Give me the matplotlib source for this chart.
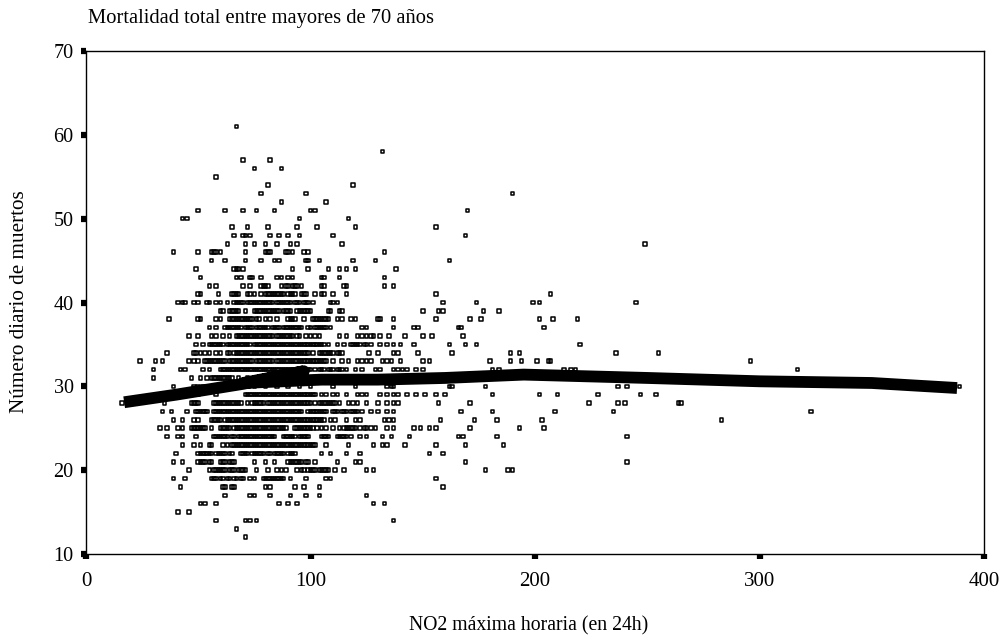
import numpy as np
import matplotlib
matplotlib.use('Agg')
import matplotlib.pyplot as plt

plt.rcParams['font.family'] = ['Liberation Serif', 'DejaVu Serif']

# NO2 readings for each daily death count
y61 = [67]
y58 = [132]
y57 = [70, 82]
y56 = [75, 87]
y55 = [58]
y54 = [81, 119]
y53 = [78, 98, 190]
y52 = [87, 107]
y51 = [50, 62, 70, 76, 84, 100, 102, 170]
y50 = [43, 45, 95, 117]
y49 = [65, 72, 81, 94, 103, 120, 156]
y48 = [66, 70, 71, 73, 82, 86, 90, 95, 110, 169]
y47 = [63, 71, 75, 80, 85, 91, 94, 114, 249]
y46 = [39, 50, 56, 57, 58, 60, 71, 80, 81, 82, 89, 90, 92, 97, 99, 133]
y45 = [56, 62, 71, 78, 84, 86, 98, 99, 104, 119, 129, 162]
y44 = [49, 66, 67, 68, 70, 92, 99, 108, 113, 116, 120, 138]
y43 = [51, 67, 69, 73, 74, 78, 85, 87, 90, 92, 105, 106, 113, 133]
y42 = [55, 58, 70, 73, 78, 79, 80, 81, 87, 89, 90, 92, 93, 94, 96, 105, 106, 115, 116, 133, 137]
y41 = [50, 51, 59, 65, 66, 67, 68, 72, 73, 75, 78, 80, 81, 82, 83, 84, 85, 86, 87, 88, 90, 91, 92, 93, 96, 97, 98,
       102, 105, 106, 110, 116, 156, 207]
y40 = [41, 43, 44, 48, 50, 54, 55, 58, 60, 63, 66, 67, 68, 69, 70, 72, 73, 74, 75, 76, 77, 78, 79, 80, 81, 82, 83,
       85, 86, 87, 88, 89, 90, 91, 93, 94, 95, 97, 98, 99, 101, 109, 110, 112, 159, 174, 199, 202, 245]
y39 = [60, 61, 64, 65, 66, 67, 68, 71, 75, 76, 77, 78, 79, 80, 81, 82, 83, 84, 85, 86, 88, 89, 90, 91, 94, 95, 96,
       97, 98, 99, 100, 108, 109, 113, 114, 150, 157, 159, 177, 184]
y38 = [37, 50, 51, 58, 60, 64, 65, 66, 67, 68, 69, 70, 71, 72, 73, 74, 76, 77, 80, 82, 85, 90, 91, 92, 93, 97, 101,
       102, 103, 104, 105, 106, 107, 108, 112, 114, 118, 120, 130, 131, 137, 156, 171, 176, 202, 208, 219]
y37 = [55, 58, 62, 63, 64, 65, 66, 67, 68, 69, 71, 72, 73, 74, 76, 77, 78, 79, 80, 81, 83, 84, 85, 86, 88, 89, 90,
       91, 92, 93, 94, 95, 96, 99, 100, 102, 103, 104, 105, 106, 107, 109, 123, 125, 137, 146, 148, 166, 167, 204]
y36 = [46, 50, 56, 58, 61, 64, 67, 68, 69, 70, 71, 72, 73, 74, 75, 76, 77, 78, 79, 80, 81, 82, 83, 85, 86, 87, 88,
       89, 90, 91, 92, 94, 95, 98, 100, 102, 104, 113, 116, 121, 123, 125, 127, 128, 131, 135, 142, 150, 154, 168]
y35 = [49, 52, 55, 56, 57, 58, 59, 60, 61, 63, 64, 65, 66, 67, 68, 69, 70, 71, 72, 73, 75, 76, 77, 78, 79, 80, 81,
       82, 83, 84, 85, 86, 87, 88, 89, 90, 91, 92, 93, 94, 95, 96, 97, 98, 99, 100, 101, 102, 103, 104, 105, 106,
       108, 112, 115, 118, 119, 120, 121, 122, 124, 125, 127, 131, 134, 137, 140, 146, 162, 169, 174, 220]
y34 = [36, 48, 49, 51, 53, 55, 58, 60, 63, 64, 66, 67, 68, 69, 70, 71, 72, 73, 74, 75, 76, 77, 78, 79, 80, 81, 82,
       83, 84, 85, 86, 87, 88, 89, 90, 91, 92, 93, 94, 95, 96, 97, 98, 99, 101, 104, 105, 106, 107, 108, 109, 110,
       112, 113, 114, 126, 130, 137, 139, 148, 163, 189, 193, 236, 255]
y33 = [24, 31, 34, 46, 48, 50, 53, 54, 55, 56, 57, 58, 59, 60, 61, 62, 64, 65, 66, 67, 68, 69, 70, 71, 72, 73, 74,
       76, 77, 78, 79, 80, 81, 82, 83, 85, 86, 87, 88, 89, 90, 91, 92, 93, 94, 95, 96, 97, 98, 99, 100, 101, 102,
       103, 104, 105, 106, 107, 110, 114, 117, 121, 123, 125, 127, 132, 134, 136, 140, 150, 153, 180, 189, 194,
       201, 206, 207, 296]
y32 = [30, 42, 44, 52, 55, 60, 61, 62, 63, 64, 65, 66, 67, 68, 69, 70, 71, 72, 73, 74, 75, 76, 77, 78, 79, 80, 81,
       82, 83, 84, 85, 86, 87, 88, 89, 90, 91, 92, 93, 94, 95, 96, 97, 98, 99, 100, 102, 104, 105, 106, 108, 109,
       110, 112, 113, 114, 116, 120, 123, 129, 131, 137, 139, 141, 143, 147, 150, 181, 184, 213, 216, 218, 317]
y31 = [30, 47, 51, 54, 56, 57, 58, 59, 60, 61, 62, 63, 64, 65, 68, 72, 76, 80, 84, 88, 92, 96, 100, 110, 120, 130,
       140, 150]
y30 = [39, 48, 50, 52, 54, 55, 70, 75, 80, 85, 90, 95, 100, 110, 120, 134, 136, 137, 162, 163, 178, 237, 241, 389]
y29 = [34, 50, 58, 71, 72, 73, 74, 75, 76, 77, 78, 79, 80, 81, 82, 83, 84, 85, 86, 87, 88, 89, 90, 91, 92, 93, 94,
       95, 96, 97, 98, 99, 100, 101, 102, 105, 107, 110, 112, 116, 121, 123, 125, 131, 134, 137, 139, 143, 147,
       151, 156, 160, 181, 202, 210, 228, 247, 254]
y28 = [16, 35, 47, 48, 49, 50, 57, 58, 59, 60, 61, 62, 63, 64, 65, 66, 67, 68, 69, 72, 74, 75, 76, 77, 78, 79, 81,
       82, 83, 84, 85, 86, 87, 88, 89, 90, 91, 92, 93, 94, 95, 96, 97, 98, 99, 100, 102, 104, 105, 106, 107, 108,
       109, 110, 111, 113, 117, 119, 121, 125, 130, 134, 137, 139, 157, 171, 224, 237, 240, 264, 265]
y27 = [34, 38, 45, 49, 50, 51, 52, 53, 54, 57, 58, 59, 60, 61, 62, 63, 64, 65, 66, 67, 68, 69, 70, 71, 72, 73, 74,
       75, 76, 77, 78, 79, 80, 81, 82, 83, 84, 85, 86, 87, 88, 89, 90, 91, 92, 93, 94, 95, 96, 99, 100, 101, 102,
       103, 104, 105, 106, 107, 110, 111, 112, 114, 115, 116, 118, 119, 120, 121, 123, 127, 130, 134, 137, 167,
       181, 209, 235, 323]
y26 = [39, 43, 48, 50, 56, 57, 58, 59, 60, 62, 63, 64, 65, 66, 67, 68, 69, 70, 71, 72, 73, 74, 75, 76, 77, 78, 79,
       80, 81, 82, 83, 84, 85, 86, 87, 88, 89, 90, 91, 92, 93, 94, 95, 96, 97, 98, 99, 100, 101, 102, 103, 104,
       105, 106, 109, 111, 116, 120, 122, 133, 135, 137, 158, 173, 183, 203, 283]
y25 = [33, 36, 41, 43, 47, 48, 49, 50, 51, 52, 53, 56, 60, 61, 62, 63, 64, 66, 67, 68, 69, 70, 71, 72, 73, 74, 75,
       76, 77, 78, 79, 80, 81, 82, 83, 84, 85, 86, 87, 88, 89, 93, 94, 95, 96, 97, 98, 99, 100, 101, 103, 105, 107,
       110, 113, 115, 116, 117, 118, 119, 120, 122, 124, 125, 127, 129, 134, 137, 146, 149, 153, 156, 171, 193, 204]
y24 = [36, 41, 43, 49, 57, 58, 59, 60, 61, 62, 63, 65, 66, 68, 69, 70, 71, 72, 73, 74, 75, 76, 77, 78, 79, 80, 81,
       82, 83, 84, 88, 89, 90, 91, 92, 93, 95, 96, 97, 98, 99, 105, 106, 107, 108, 112, 113, 114, 115, 116, 118,
       122, 125, 132, 136, 144, 166, 168, 183, 241]
y23 = [43, 48, 51, 55, 56, 61, 63, 65, 66, 67, 68, 69, 70, 71, 72, 73, 74, 75, 76, 77, 78, 79, 80, 81, 82, 83, 84,
       85, 86, 87, 88, 89, 90, 91, 92, 93, 94, 95, 96, 97, 98, 99, 100, 101, 102, 107, 117, 128, 132, 134, 142,
       156, 169, 186]
y22 = [40, 50, 51, 52, 53, 54, 55, 56, 58, 59, 60, 61, 62, 64, 65, 69, 70, 71, 72, 74, 75, 76, 77, 78, 79, 81, 82,
       84, 85, 86, 87, 88, 90, 91, 92, 93, 105, 109, 116, 122, 153, 159]
y21 = [39, 43, 50, 51, 52, 53, 55, 56, 60, 61, 62, 64, 65, 66, 75, 80, 84, 90, 91, 92, 93, 94, 95, 96, 98, 99, 102,
       112, 120, 122, 169, 241]
y20 = [46, 55, 57, 58, 59, 60, 61, 62, 64, 65, 66, 68, 69, 70, 71, 76, 81, 85, 87, 89, 94, 96, 97, 99, 100, 101,
       102, 104, 105, 106, 107, 108, 111, 115, 125, 128, 178, 188, 190]
y19 = [39, 44, 56, 57, 58, 60, 61, 63, 64, 66, 67, 69, 70, 73, 75, 79, 80, 81, 82, 83, 84, 85, 86, 87, 88, 91, 98,
       107, 109, 156]
y18 = [42, 61, 62, 65, 66, 80, 82, 93, 97, 104, 159]
y17 = [62, 73, 75, 82, 91, 98, 104, 125]
y16 = [51, 53, 58, 86, 90, 94, 128, 133]
y15 = [41, 46]
y14 = [58, 71, 73, 76, 137]
y13 = [67]
y12 = [71]

rows = {61: y61, 58: y58, 57: y57, 56: y56, 55: y55, 54: y54, 53: y53, 52: y52, 51: y51, 50: y50,
        49: y49, 48: y48, 47: y47, 46: y46, 45: y45, 44: y44, 43: y43, 42: y42, 41: y41, 40: y40,
        39: y39, 38: y38, 37: y37, 36: y36, 35: y35, 34: y34, 33: y33, 32: y32, 31: y31, 30: y30,
        29: y29, 28: y28, 27: y27, 26: y26, 25: y25, 24: y24, 23: y23, 22: y22, 21: y21, 20: y20,
        19: y19, 18: y18, 17: y17, 16: y16, 15: y15, 14: y14, 13: y13, 12: y12}

# Smoothed curve, it doubles back near 97 like in the original
curva_no2 = [17, 40, 70, 97, 70, 105, 130, 160, 195, 250, 300, 350, 388]
curva_muertos = [28.1, 29, 30.3, 31.8, 30.4, 30.8, 30.8, 31, 31.4, 31, 30.6, 30.4, 29.8]

no2 = np.concatenate([v for v in rows.values()])
muertos = np.concatenate([[k] * len(v) for k, v in rows.items()])

W, H = 1005, 636
fig = plt.figure(figsize=(W / 100, H / 100), dpi=100)
ax = fig.add_axes([86 / W, 1 - 554 / H, (984 - 86) / W, (554 - 51) / H])

ax.scatter(no2, muertos, marker='s', s=6.5, facecolors='none', edgecolors='black', linewidths=1.1, zorder=2)
ax.plot(curva_no2, curva_muertos, color='black', linewidth=8.5, solid_capstyle='butt', solid_joinstyle='round', zorder=3)

ax.set_xlim(0, 400)
ax.set_ylim(10, 70)
ax.set_xticks([0, 100, 200, 300, 400])
ax.set_yticks([10, 20, 30, 40, 50, 60, 70])
ax.tick_params(axis='y', length=3.5, width=4.5, labelsize=14.5, color='black', pad=5.5)
ax.tick_params(axis='x', length=3.5, width=4.5, labelsize=15, color='black', pad=9.5)
for s in ax.spines.values():
    s.set_linewidth(1.0)

fig.text(88 / W, 1 - 19 / H, 'Mortalidad total entre mayores de 70 años', fontsize=14.8, ha='left', va='center')
fig.text(529 / W, 1 - 626 / H, 'NO2 máxima horaria (en 24h)', fontsize=14.2, ha='center', va='center')
fig.text(20 / W, 1 - 302 / H, 'Número diario de muertos', fontsize=15.2, rotation=90, ha='center', va='center')

fig.savefig('out.png', dpi=100)
